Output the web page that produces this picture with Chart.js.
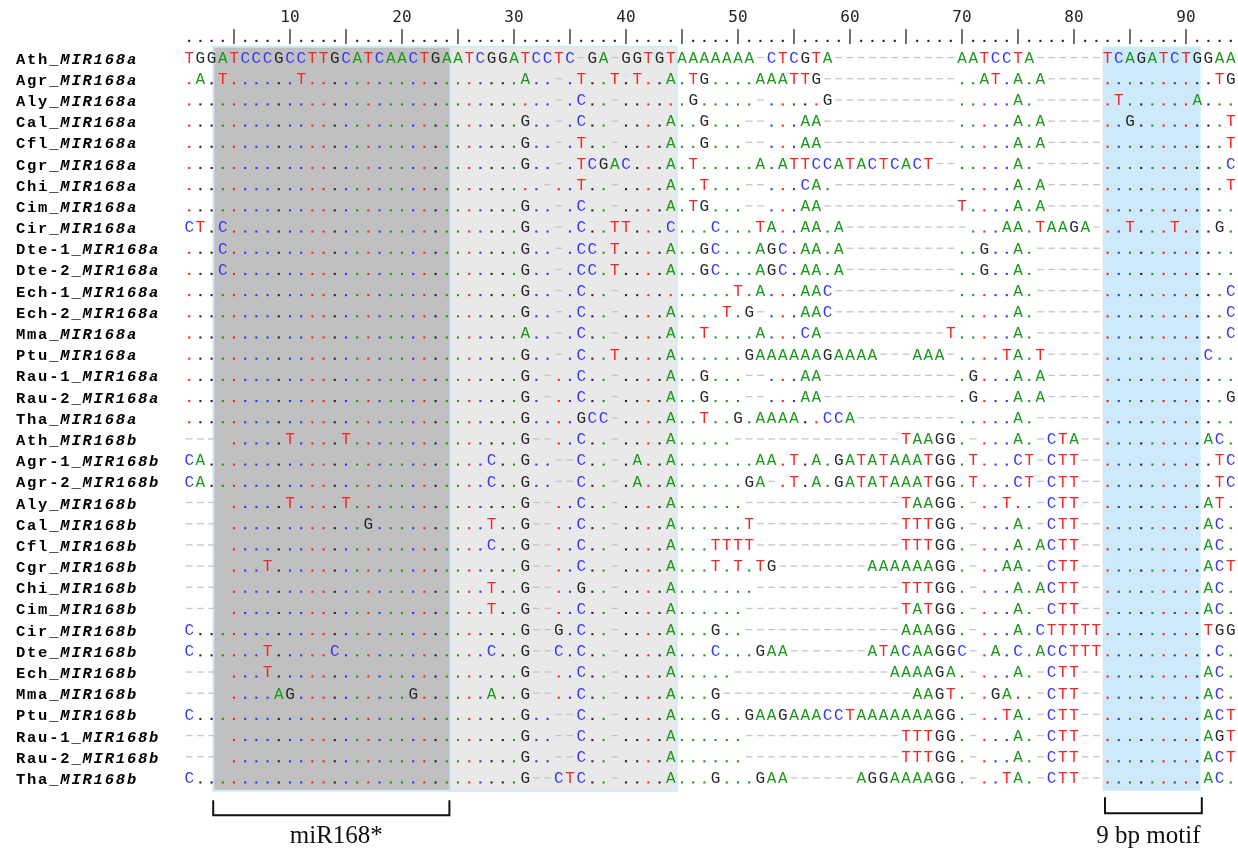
<!DOCTYPE html>
<html><head><meta charset="utf-8">
<script src="https://cdn.jsdelivr.net/npm/chart.js@4/dist/chart.umd.min.js"></script>
<style>html,body{margin:0;padding:0;background:#fff}canvas{display:block}</style>
</head><body>
<canvas id="c" width="1238" height="851"></canvas>
<script>
// ---------- DATA ----------
const species = ["Ath","Agr","Aly","Cal","Cfl","Cgr","Chi","Cim","Cir","Dte-1","Dte-2","Ech-1","Ech-2","Mma","Ptu","Rau-1","Rau-2","Tha",
  "Ath","Agr-1","Agr-2","Aly","Cal","Cfl","Cgr","Chi","Cim","Cir","Dte","Ech","Mma","Ptu","Rau-1","Rau-2","Tha"];
const genes = ["MIR168a","MIR168a","MIR168a","MIR168a","MIR168a","MIR168a","MIR168a","MIR168a","MIR168a","MIR168a","MIR168a","MIR168a","MIR168a","MIR168a","MIR168a","MIR168a","MIR168a","MIR168a",
  "MIR168b","MIR168b","MIR168b","MIR168b","MIR168b","MIR168b","MIR168b","MIR168b","MIR168b","MIR168b","MIR168b","MIR168b","MIR168b","MIR168b","MIR168b","MIR168b","MIR168b"];
// alignment rows, written in blocks of 10 columns ('.' = same as first row, '-' = gap)
const sequences = [
  "TGGATCCCGC CTTGCATCAA CTGAATCGGA TCCTC-GA-G GTGTAAAAAA A-CTCGTA-- ---------A ATCCTA---- --TCAGATCT GGAA",
  ".A.T...... T......... .......... A..-.T..T. T..A.TG... .AAATTG--- ---------. .AT.A.A--- --........ ..TG",
  ".......... .......... .......... ...-.C..-. .....G.... .-.....G-- ---------. ....A.---- --.T...... A...",
  ".......... .......... .......... G..-.C..-. ...A..G... --...AA--- ---------. ....A.A--- --..G..... ...T",
  ".......... .......... .......... G..-.T..-. ...A..G... --...AA--- ---------. ....A.A--- --........ ...T",
  ".......... .......... .......... G..-.TCGAC ...A.T.... .A.ATTCCAT ACTCACT--. ....A.---- --........ ...C",
  ".......... .......... .......... ..-..T..-. ...A..T... --...CA.-- ---------. ....A.A--- --........ ...T",
  ".......... .......... .......... G..-.C..-. ...A.TG... --...AA--- ---------T ....A.A--- --........ ....",
  "CT.C...... .......... .......... G..-.C..TT ...C...C.. .TA..AA.A- ---------- ...AA.TAAG A-..T...T. ..G.",
  "...C...... .......... .......... G..-.CC.T. ...A..GC.. .AGC.AA.A- ---------. .G..A.---- --........ ....",
  "...C...... .......... .......... G..-.CC.T. ...A..GC.. .AGC.AA.A- ---------. .G..A.---- --........ ....",
  ".......... .......... .......... G..-.C..-. .........T .A...AAC-- ---------. ....A.---- --........ ...C",
  ".......... .......... .......... G..-.C..-. ...A....T. G-...AAC-- ---------. ....A.---- --........ ...C",
  ".......... .......... .......... A..-.C..-. ...A..T... .A...CA--- --------T. ....A.---- --........ ...C",
  ".......... .......... .......... G..-.C..T. ...A...... GAAAAAAGAA AA---AAA-. ...TA.T--- --........ .C..",
  ".......... .......... .......... G.-..C..-. ...A..G... --...AA--- ---------. G...A.A--- --........ ....",
  ".......... .......... .......... G.-..C..-. ...A..G... --...AA--- ---------. G...A.A--- --........ ...G",
  ".......... .......... .......... G....GCC-. ...A..T..G .AAAA..CCA ---------. ....A.---- --........ ....",
  "----.....T ....T..... .......... G--..C..-. ...A.....- ---------- ----TAAGG. -...A.-CTA --........ .AC.",
  "CA........ .......... .......C.. G..--C..-. A..A...... .AA.T.A.GA TATAAATGG. T...CT-CTT --........ ..TC",
  "CA........ .......... .......C.. G..--C..-. A..A...... GA-.T.A.GA TATAAATGG. T...CT-CTT --........ ..TC",
  "----.....T ....T..... .......... G--..C..-. ...A...... ---------- ----TAAGG. -..T..-CTT --........ .AT.",
  "----...... ......G... .......T.. G--..C..-. ...A...... T--------- ----TTTGG. -...A.-CTT --........ .AC.",
  "----...... .......... .......C.. G--..C..-. ...A...TTT T--------- ----TTTGG. -...A.ACTT --........ .AC.",
  "----...T.. .......... .......... G--..C..-. ...A...T.T .TG------- -AAAAAAGG. -..AA.-CTT --........ .ACT",
  "----...... .......... .......T.. G--..G..-. ...A...... .--------- ----TTTGG. -...A.ACTT --........ .AC.",
  "----...... .......... .......T.. G--..C..-. ...A...... ---------- ----TATGG. -...A.-CTT --........ .AC.",
  "C......... .......... .......... G--G.C..-. ...A...G.. ---------- ----AAAGG. -...A.CTTT TT........ .TGG",
  "C......T.. ...C...... .......C.. G--C.C..-. ...A...C.. .GAA------ -ATACAAGGC -.A.C.ACCT TT........ ..C.",
  "----...T.. .......... .......... G--..C..-. ...A.....- ---------- ---AAAAGA. -...A.-CTT --........ .AC.",
  "----....AG .......... G......A.. G--..C..-. ...A...G-- ---------- -----AAGT. -.GA..-CTT --........ .AC.",
  "C......... .......... .......... G..--C..-. ...A...G.. GAAGAAACCT AAAAAAAGG. -..TA.-CTT --........ .ACT",
  "----...... .......... .......... G..--C..-. ...A...... ---------- ----TTTGG. -...A.-CTT --........ .AGT",
  "----...... .......... .......... G..--C..-. ...A...... ---------- ----TTTGG. -...A.-CTT --........ .ACT",
  "C......... .......... .......... G--CTC..-. ...A...G.. .GAA------ AGGAAAAGG. -..TA.-CTT --........ .AC."
].map(s => s.replace(/ /g, ''));
const rulerLabels = [10, 20, 30, 40, 50, 60, 70, 80, 90];
const regionFrom = [4, 25, 83];
const regionTo = [24, 44, 91];
const bracketFrom = [4, 83];
const bracketTo = [24, 91];
const bracketText = ["miR168*", "9 bp motif"];

// ---------- STYLE ----------
const NCOL = 94;
const baseColor = {A: '#1c981c', C: '#3434ff', G: '#262626', T: '#ff2222'};
const regionFill = ['#c0c0c0', '#e9e9e9', '#cde9fa'];
const regionStroke = ['#d3e9f6', '#d3e9f6', null];
const regionEdge = [[-0.35, -0.15], [-0.15, 0.03], [0.06, -0.19]]; // fine edge placement (columns)
const gapColor = '#c6c6c6';
const seqFont = '16px "Liberation Mono", "DejaVu Sans Mono", monospace';

const rows = sequences.map(s => (s + '-'.repeat(NCOL)).slice(0, NCOL));
const ref = rows[0];

const datasets = rows.map((seq, r) => ({
  label: species[r] + '_' + genes[r],
  data: Array.from(seq).map((ch, i) => ({x: i + 1, y: r, ch})),
  pointRadius: 0, pointHoverRadius: 0, showLine: false
}));

const alignPlugin = {
  id: 'alignPlugin',
  beforeDatasetsDraw(chart) {
    const {ctx, scales: {x, y}} = chart;
    const top = y.getPixelForValue(-0.5);
    const bottom = y.getPixelForValue(rows.length - 0.5 + 0.12);
    ctx.save();
    const edges = regionFrom.map((f, k) => [
      x.getPixelForValue(f - 0.5 + regionEdge[k][0]),
      x.getPixelForValue(regionTo[k] + 0.5 + regionEdge[k][1])
    ]);
    edges.forEach(([x0, x1], k) => {
      ctx.fillStyle = regionFill[k];
      ctx.fillRect(x0, top, x1 - x0, bottom - top);
    });
    edges.forEach(([x0, x1], k) => {
      if (!regionStroke[k]) return;
      ctx.strokeStyle = regionStroke[k];
      ctx.lineWidth = 2;
      ctx.strokeRect(x0, top, x1 - x0, bottom - top);
    });
    ctx.restore();
  },
  afterDatasetsDraw(chart) {
    const {ctx} = chart;
    ctx.save();
    ctx.font = seqFont;
    ctx.textAlign = 'center';
    ctx.textBaseline = 'alphabetic';
    chart.data.datasets.forEach((ds, r) => {
      const meta = chart.getDatasetMeta(r);
      meta.data.forEach((pt, i) => {
        const ch = ds.data[i].ch;
        const px = pt.x, py = pt.y;
        if (ch === '-') {
          ctx.fillStyle = gapColor;
          ctx.fillRect(px - 3.3, py - 0.4, 6.6, 1.3);
        } else if (ch === '.') {
          const rc = ref[i];
          ctx.fillStyle = baseColor[rc] || '#222';
          ctx.fillRect(px - 1.05, py + 3.7, 2.1, 2.1);
        } else {
          ctx.fillStyle = baseColor[ch] || '#222';
          ctx.fillText(ch, px, py + 5.6);
        }
      });
    });
    ctx.restore();
  },
  afterDraw(chart) {
    const {ctx, scales: {x, y}} = chart;
    ctx.save();
    // ruler
    const ry = y.getPixelForValue(-1);
    for (let c = 1; c <= NCOL; c++) {
      const px = x.getPixelForValue(c);
      if (c % 5 === 0) {
        ctx.fillStyle = '#444';
        ctx.fillRect(px - 0.75, ry - 7, 1.5, 15);
      } else {
        ctx.fillStyle = '#222';
        ctx.fillRect(px - 1.05, ry + 3.7, 2.1, 2.1);
      }
    }
    ctx.font = '16px "DejaVu Sans Mono", monospace';
    ctx.textAlign = 'center';
    ctx.textBaseline = 'alphabetic';
    ctx.fillStyle = '#222';
    rulerLabels.forEach(v => ctx.fillText(String(v), x.getPixelForValue(v), ry - 14));
    // row labels
    const cw = 11.1;
    rows.forEach((s, r) => {
      const py = y.getPixelForValue(r) + 6.3;
      const pre = species[r] + '_';
      const gene = genes[r];
      ctx.fillStyle = '#000';
      ctx.font = 'bold 15.5px "Liberation Mono", monospace';
      for (let k = 0; k < pre.length; k++) ctx.fillText(pre[k], 15 + k * cw + cw / 2, py);
      ctx.font = 'italic bold 15.5px "Liberation Mono", monospace';
      for (let k = 0; k < gene.length; k++) ctx.fillText(gene[k], 15 + (pre.length + k) * cw + cw / 2, py);
    });
    // brackets
    ctx.strokeStyle = '#111';
    ctx.lineWidth = 2;
    ctx.fillStyle = '#111';
    ctx.font = '25px "Liberation Serif", "Times New Roman", serif';
    const by = y.getPixelForValue(rows.length - 0.5) + 12;
    bracketFrom.forEach((f, k) => {
      const x0 = x.getPixelForValue(f - 0.5) + (k === 0 ? -4 : 3);
      const x1 = x.getPixelForValue(bracketTo[k] + 0.5) + (k === 0 ? -3 : -1);
      const yTop = by - (k === 0 ? 0 : 3), yBot = by + 15 - (k === 0 ? 0 : 2);
      ctx.beginPath();
      ctx.moveTo(x0, yTop); ctx.lineTo(x0, yBot); ctx.lineTo(x1, yBot); ctx.lineTo(x1, yTop);
      ctx.stroke();
      ctx.fillText(bracketText[k], (x0 + x1) / 2 + (k === 0 ? 5 : -5), by + 43);
    });
    ctx.restore();
  }
};

new Chart(document.getElementById('c').getContext('2d'), {
  type: 'scatter',
  data: {datasets},
  options: {
    responsive: false,
    animation: false,
    devicePixelRatio: 1,
    events: [],
    layout: {padding: {left: 183.6, right: 1.6, top: 46.7, bottom: 62.7}},
    plugins: {legend: {display: false}, tooltip: {enabled: false}},
    scales: {
      x: {type: 'linear', min: 0.5, max: 94.5, display: false},
      y: {type: 'linear', min: -0.5, max: 34.5, reverse: true, display: false}
    }
  },
  plugins: [alignPlugin]
});
</script>
</body></html>
